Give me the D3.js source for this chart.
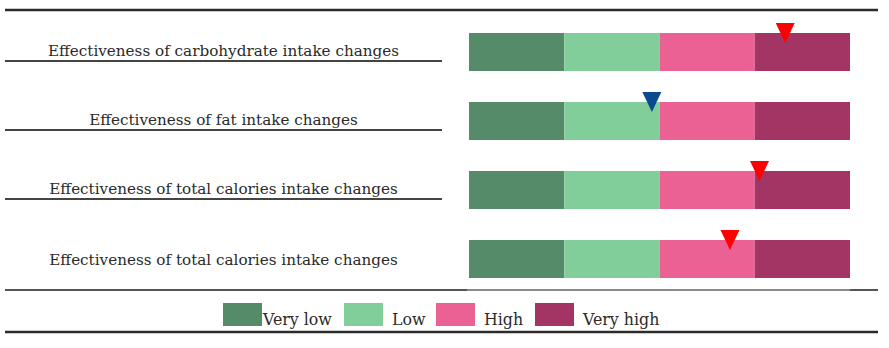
<!DOCTYPE html>
<html lang="en">
<head>
<meta charset="utf-8" />
<title>Effectiveness of intake changes</title>
<script src="https://cdn.jsdelivr.net/npm/d3@7"></script>
<style>
  body { margin: 0; background: #fff; }
  text { font-family: "DejaVu Serif", "Liberation Serif", serif; fill: #2a2a2a; }
</style>
</head>
<body>
<div id="chart"></div>
<script>

// rows, rating levels and where each row's marker sits (0..4 scale)
var rows = [
  "Effectiveness of carbohydrate intake changes",
  "Effectiveness of fat intake changes",
  "Effectiveness of total calories intake changes",
  "Effectiveness of total calories intake changes"
];
var levels = ["Very low", "Low", "High", "Very high"];
var levelColors = ["#558b69", "#81ce9a", "#ec6194", "#a23563"];
var markerValues = [3.32, 1.92, 3.05, 2.74];
var markerColors = ["#ff0000", "#0b4a8c", "#ff0000", "#ff0000"];

var width = 889, height = 348;

var svg = d3.select("#chart")
  .append("svg")
    .attr("width", width)
    .attr("height", height);

// horizontal scale of the rating bar
var x = d3.scaleLinear()
  .domain([0, levels.length])
  .range([469, 850]);

// one band per row
var y = d3.scaleBand()
  .domain(d3.range(rows.length))
  .range([33, 33 + 69 * rows.length]);

var barH = 38;

// top and bottom rules
svg.append("line")
  .attr("x1", 5).attr("x2", 878)
  .attr("y1", 10).attr("y2", 10)
  .attr("stroke", "#2b2b2b").attr("stroke-width", 2.5);

svg.append("line")
  .attr("x1", 5).attr("x2", 878)
  .attr("y1", 290).attr("y2", 290)
  .attr("stroke", "#8a8a8a").attr("stroke-width", 2);
svg.append("line")
  .attr("x1", 5).attr("x2", 467)
  .attr("y1", 290).attr("y2", 290)
  .attr("stroke", "#555").attr("stroke-width", 2);
svg.append("line")
  .attr("x1", 850).attr("x2", 878)
  .attr("y1", 290).attr("y2", 290)
  .attr("stroke", "#555").attr("stroke-width", 2);

svg.append("line")
  .attr("x1", 5).attr("x2", 878)
  .attr("y1", 332).attr("y2", 332)
  .attr("stroke", "#2b2b2b").attr("stroke-width", 2.5);

var row = svg.selectAll("g.row")
  .data(rows)
  .enter()
  .append("g")
    .attr("class", "row")
    .attr("transform", function(d, i) { return "translate(0," + y(i) + ")"; });

// row labels, centred in the left column
row.append("text")
  .attr("x", 223.5)
  .attr("y", function(d, i) { return barH / 2 + (i === rows.length - 1 ? 6 : 4); })
  .attr("text-anchor", "middle")
  .style("font-size", "15.2px")
  .text(function(d) { return d; });

// underline under each label except the last (the rule takes that place)
row.filter(function(d, i) { return i < rows.length - 1; })
  .append("line")
  .attr("x1", 5).attr("x2", 442)
  .attr("y1", barH - 10).attr("y2", barH - 10)
  .attr("stroke", "#444").attr("stroke-width", 2);

// the four coloured segments
row.selectAll("rect")
  .data(levels)
  .enter()
  .append("rect")
    .attr("x", function(d, j) { return x(j); })
    .attr("y", 0)
    .attr("width", function(d, j) { return x(j + 1) - x(j); })
    .attr("height", barH)
    .attr("fill", function(d, j) { return levelColors[j]; });

// downward triangle marker
row.append("path")
  .attr("d", function(d, i) {
    var cx = x(markerValues[i]);
    return "M" + (cx - 9.5) + ",-10L" + (cx + 9.5) + ",-10L" + cx + ",10Z";
  })
  .attr("fill", function(d, i) { return markerColors[i]; });

// legend
var legendX = [223, 344, 436, 535];
var legend = svg.selectAll("g.legend")
  .data(levels)
  .enter()
  .append("g")
    .attr("class", "legend")
    .attr("transform", function(d, i) { return "translate(" + legendX[i] + ",303)"; });

legend.append("rect")
  .attr("width", 39)
  .attr("height", 23)
  .attr("fill", function(d, i) { return levelColors[i]; });

legend.append("text")
  .attr("x", function(d, i) { return i === 0 ? 40 : 48; })
  .attr("y", 22)
  .style("font-size", "15.8px")
  .text(function(d) { return d; });

</script>
</body>
</html>
